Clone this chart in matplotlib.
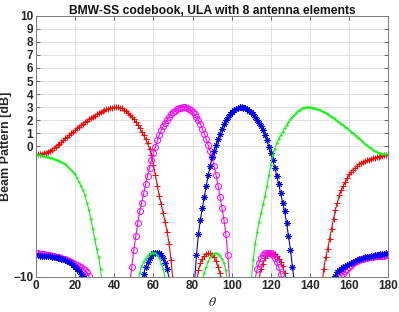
import matplotlib
matplotlib.use("Agg")
import matplotlib.pyplot as plt
import numpy as np

plt.rcParams['font.family'] = ['Liberation Sans', 'DejaVu Sans']
plt.rcParams['mathtext.fontset'] = 'stix'

# angle grid in degrees, one sample per degree
theta = list(range(181))

# beam pattern in dB (values below -10 are off the axes)
beam_red = [
    -0.62, -0.61, -0.60, -0.57, -0.53, -0.48, -0.42, -0.34, -0.25, -0.15,
    -0.04, 0.08, 0.21, 0.34, 0.48, 0.61, 0.74, 0.87, 1.00, 1.13,
    1.26, 1.38, 1.50, 1.62, 1.73, 1.84, 1.95, 2.06, 2.16, 2.26,
    2.36, 2.45, 2.54, 2.62, 2.70, 2.77, 2.83, 2.88, 2.93, 2.96,
    2.99, 3.00, 2.99, 2.96, 2.90, 2.82, 2.72, 2.58, 2.42, 2.25,
    2.06, 1.85, 1.62, 1.38, 1.12, 0.85, 0.56, 0.24, -0.18, -0.65,
    -1.40, -2.20, -3.05, -3.80, -4.45, -5.10, -5.80, -6.55, -7.45, -8.70,
    -10.3, -12.5, -15, -19, -24, -30, -30, -25, -21, -19,
    -16, -13, -10.5, -9.5, -8.95, -8.6, -8.38, -8.24, -8.18, -8.2,
    -8.3, -8.5, -8.8, -9.2, -9.7, -10.3, -11.2, -13, -15, -18,
    -21, -25, -30, -35, -40, -40, -30, -25, -21, -18,
    -16, -14, -12.6, -11.3, -10.1, -9.4, -8.97, -8.58, -8.31, -8.19,
    -8.15, -8.17, -8.25, -8.39, -8.59, -8.83, -9.15, -9.67, -10.4, -11.4,
    -13, -15, -18, -21, -25, -30, -30, -27, -25, -23,
    -21, -19, -17, -15.5, -14, -12.5, -10.8, -9.4, -8.5, -7.85,
    -7.1, -6.3, -5.55, -4.85, -4.3, -3.75, -3.35, -3.05, -2.75, -2.45,
    -2.15, -1.95, -1.80, -1.65, -1.50, -1.38, -1.29, -1.21, -1.14, -1.07,
    -1.01, -0.96, -0.91, -0.87, -0.83, -0.79, -0.75, -0.72, -0.69, -0.67,
    -0.66,
]

beam_magenta = [
    -8.20, -8.20, -8.21, -8.22, -8.25, -8.28, -8.32, -8.35, -8.38, -8.41,
    -8.44, -8.47, -8.50, -8.55, -8.60, -8.66, -8.72, -8.78, -8.85, -8.92,
    -9.00, -9.08, -9.17, -9.27, -9.38, -9.50, -9.65, -9.95, -10.5, -11.5,
    -13, -15, -17, -20, -22, -25, -28, -30, -30, -28,
    -25, -23, -21, -19, -17, -15.5, -13.5, -11.8, -10.4, -9.2,
    -7.9, -6.85, -5.85, -4.95, -4.30, -3.60, -2.90, -2.25, -1.65, -1.05,
    -0.50, -0.05, 0.45, 0.86, 1.22, 1.54, 1.81, 2.05, 2.26, 2.44,
    2.60, 2.73, 2.83, 2.91, 2.96, 2.99, 2.99, 2.95, 2.89, 2.78,
    2.63, 2.45, 2.24, 2.00, 1.70, 1.36, 0.98, 0.54, 0.10, -0.35,
    -0.85, -1.50, -2.20, -3.00, -3.85, -4.70, -5.60, -6.70, -8.30, -10.4,
    -12.5, -15, -19, -25, -30, -30, -26, -22, -19, -16.5,
    -14.5, -12, -10.1, -9.4, -8.9, -8.55, -8.33, -8.2, -8.15, -8.14,
    -8.2, -8.33, -8.55, -8.85, -9.25, -9.75, -10.4, -11.3, -12.5, -14,
    -16, -18, -21, -24, -27, -30, -33, -36, -40, -40,
    -35, -31, -28, -25, -23, -21, -19, -17.5, -16, -14.5,
    -13.3, -12.3, -11.5, -10.9, -10.5, -10.2, -9.95, -9.75, -9.55, -9.35,
    -9.2, -9.05, -8.95, -8.85, -8.77, -8.70, -8.65, -8.60, -8.56, -8.52,
    -8.49, -8.46, -8.44, -8.42, -8.40, -8.39, -8.38, -8.37, -8.36, -8.35,
    -8.35,
]

beam_blue = [
    -8.35, -8.35, -8.36, -8.37, -8.38, -8.39, -8.40, -8.42, -8.44, -8.46,
    -8.49, -8.52, -8.56, -8.60, -8.65, -8.70, -8.77, -8.85, -8.95, -9.05,
    -9.2, -9.35, -9.55, -9.75, -9.95, -10.2, -10.5, -10.9, -11.5, -12.3,
    -13.3, -14.5, -16, -17.5, -19, -21, -23, -25, -28, -31,
    -35, -40, -40, -36, -33, -30, -27, -24, -21, -18,
    -16, -14, -12.5, -11.3, -10.4, -9.75, -9.25, -8.85, -8.55, -8.33,
    -8.2, -8.14, -8.15, -8.2, -8.33, -8.55, -8.9, -9.4, -10.1, -12,
    -14.5, -16.5, -19, -22, -26, -30, -30, -25, -19, -15,
    -12.5, -10.4, -8.30, -6.70, -5.60, -4.70, -3.85, -3.00, -2.20, -1.50,
    -0.85, -0.35, 0.10, 0.54, 0.98, 1.36, 1.70, 2.00, 2.24, 2.45,
    2.63, 2.78, 2.89, 2.95, 2.99, 2.99, 2.96, 2.91, 2.83, 2.73,
    2.60, 2.44, 2.26, 2.05, 1.81, 1.54, 1.22, 0.86, 0.45, -0.05,
    -0.50, -1.05, -1.65, -2.25, -2.90, -3.60, -4.30, -4.95, -5.85, -6.85,
    -7.9, -9.2, -10.4, -11.8, -13.5, -15.5, -17, -19, -21, -23,
    -25, -28, -30, -30, -28, -25, -22, -20, -17, -15,
    -13, -11.5, -10.5, -9.95, -9.65, -9.50, -9.38, -9.27, -9.17, -9.08,
    -9.00, -8.92, -8.85, -8.78, -8.72, -8.66, -8.60, -8.55, -8.50, -8.47,
    -8.44, -8.41, -8.38, -8.35, -8.32, -8.28, -8.25, -8.22, -8.21, -8.20,
    -8.20,
]

beam_green = [
    -0.66, -0.67, -0.69, -0.72, -0.75, -0.79, -0.83, -0.87, -0.91, -0.96,
    -1.01, -1.07, -1.14, -1.21, -1.29, -1.38, -1.50, -1.65, -1.80, -1.95,
    -2.15, -2.45, -2.75, -3.05, -3.35, -3.75, -4.3, -4.85, -5.55, -6.3,
    -7.1, -7.85, -8.5, -9.4, -10.8, -12.5, -14, -15.5, -17, -19,
    -21, -23, -25, -27, -30, -30, -25, -21, -18, -15,
    -13, -11.4, -10.4, -9.67, -9.15, -8.83, -8.59, -8.39, -8.25, -8.17,
    -8.15, -8.19, -8.31, -8.58, -8.97, -9.4, -10.1, -11.3, -12.6, -14,
    -16, -18, -21, -25, -30, -40, -40, -35, -30, -25,
    -21, -18, -15, -13, -11.2, -10.3, -9.7, -9.2, -8.8, -8.5,
    -8.3, -8.2, -8.18, -8.24, -8.38, -8.6, -8.95, -9.5, -10.5, -13,
    -16, -19, -21, -25, -30, -30, -24, -19, -15, -12.5,
    -10.3, -8.70, -7.45, -6.55, -5.80, -5.10, -4.45, -3.80, -3.05, -2.20,
    -1.40, -0.65, -0.18, 0.24, 0.56, 0.85, 1.12, 1.38, 1.62, 1.85,
    2.06, 2.25, 2.42, 2.58, 2.72, 2.82, 2.90, 2.96, 2.99, 3.00,
    2.99, 2.96, 2.93, 2.88, 2.83, 2.77, 2.70, 2.62, 2.54, 2.45,
    2.36, 2.26, 2.16, 2.06, 1.95, 1.84, 1.73, 1.62, 1.50, 1.38,
    1.26, 1.13, 1.00, 0.87, 0.74, 0.61, 0.48, 0.34, 0.21, 0.08,
    -0.04, -0.15, -0.25, -0.34, -0.42, -0.48, -0.53, -0.57, -0.60, -0.61,
    -0.62,
]

x_ticks = [0, 20, 40, 60, 80, 100, 120, 140, 160, 180]
y_ticks = [-10, 0, 1, 2, 3, 4, 5, 6, 7, 8, 9, 10]

ymin, ymax = -10, 10

fig = plt.figure(figsize=(3.99, 3.12), dpi=100)
ax = fig.add_axes([0.0902, 0.1122, 0.8830, 0.8375])


def draw(values, color, marker, ms, mfc):
    vals = np.array(values, dtype=float)
    # markers only where the point is inside the y range, like MATLAB
    inside = list((vals >= ymin) & (vals <= ymax))
    ax.plot(theta, vals, color=color, lw=0.8, marker=marker, ms=ms,
            mfc=mfc, mec=color, mew=0.7, markevery=inside)


draw(beam_red, '#ff0000', '+', 5, 'none')
draw(beam_magenta, '#ff00ff', 'o', 4.3, 'none')
draw(beam_blue, '#0000ff', (8, 2, 0), 4.3, 'none')
draw(beam_green, '#00ff00', '.', 2.0, '#00ff00')

ax.set_xlim(0, 180)
ax.set_ylim(ymin, ymax)
ax.set_xticks(x_ticks)
ax.set_yticks(y_ticks)
ax.grid(True, color='#dcdcdc', lw=0.6)
ax.set_axisbelow(True)

for s in ax.spines.values():
    s.set_color('#7a7a7a')
    s.set_linewidth(0.7)
ax.tick_params(direction='in', length=3, width=0.6, color='#555555',
               top=True, right=True, labelsize=8.5, labelcolor='#262626', pad=2)
for lab in ax.get_xticklabels() + ax.get_yticklabels():
    lab.set_fontweight('bold')

ax.set_title('BMW-SS codebook, ULA with 8 antenna elements',
             fontsize=8.7, fontweight='bold', color='#111111', pad=1.5)
ax.set_ylabel('Beam Pattern [dB]', fontsize=9, fontweight='bold',
              color='#262626', labelpad=1)
ax.set_xlabel(r'$\theta$', fontsize=10, color='#262626', labelpad=2)

fig.savefig('out.png', dpi=100)
